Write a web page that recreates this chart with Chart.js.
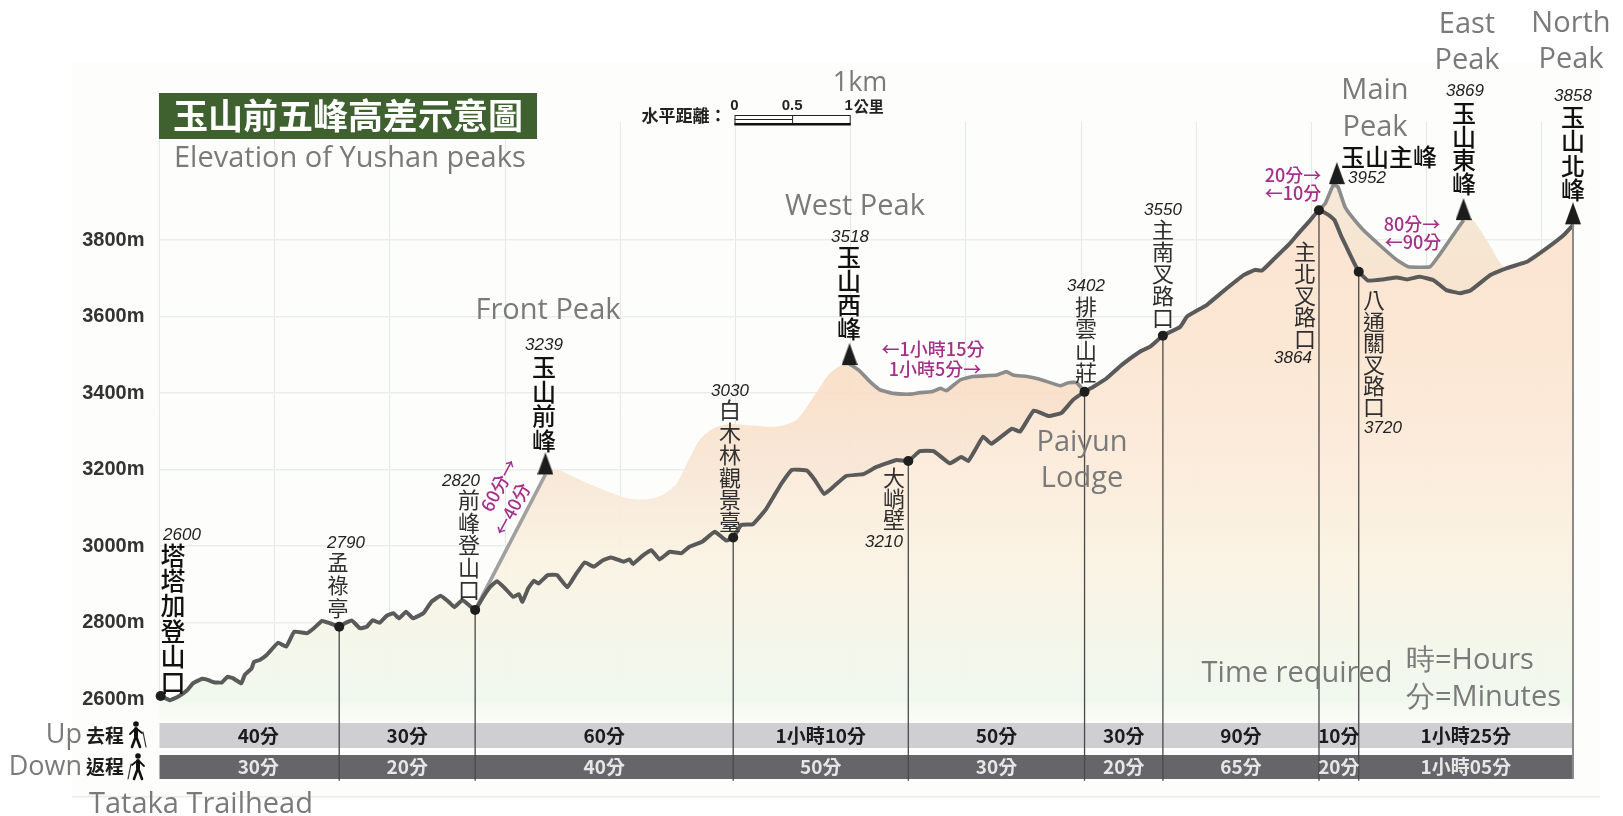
<!DOCTYPE html>
<html><head><meta charset="utf-8">
<style>html,body{margin:0;padding:0;background:#fff}canvas{display:block}</style>
<script src="https://cdn.jsdelivr.net/npm/chart.js@4"></script>
</head><body><canvas id="c" width="1623" height="816"></canvas>
<script>
// ---- data: distance (km) and elevation (m) ----
const yTicksM=[2600,2800,3000,3200,3400,3600,3800];
const xGridKm=[0,1,2,3,4,5,6,7,8,9,10,11,12];
const mainKm=[0.01,0.09,0.16,0.24,0.29,0.37,0.42,0.47,0.54,0.59,0.64,0.71,0.74,0.80,0.82,0.87,0.93,1.03,1.10,1.17,1.28,1.34,1.41,1.48,1.56,1.61,1.67,1.74,1.80,1.85,1.91,1.97,2.03,2.08,2.14,2.20,2.29,2.36,2.44,2.51,2.56,2.63,2.74,2.81,2.87,2.93,3.00,3.07,3.12,3.15,3.20,3.25,3.29,3.37,3.45,3.54,3.61,3.69,3.77,3.85,3.92,4.03,4.08,4.11,4.20,4.27,4.34,4.43,4.53,4.60,4.71,4.82,4.92,4.98,5.05,5.15,5.26,5.33,5.40,5.49,5.62,5.69,5.77,5.85,5.96,6.11,6.22,6.40,6.50,6.60,6.72,6.86,6.96,7.02,7.08,7.15,7.22,7.40,7.47,7.59,7.72,7.83,7.93,8.03,8.11,8.22,8.35,8.51,8.60,8.71,8.86,8.92,9.09,9.23,9.41,9.51,9.57,9.68,9.80,9.90,9.99,10.065,10.15,10.20,10.26,10.33,10.41,10.49,10.62,10.74,10.83,10.94,11.06,11.17,11.29,11.38,11.55,11.69,11.87,12.04,12.19,12.27];
const mainM=[2608,2597,2606,2623,2641,2653,2650,2644,2643,2658,2654,2641,2663,2680,2697,2702,2715,2747,2737,2776,2772,2785,2804,2798,2789,2798,2805,2785,2789,2806,2799,2817,2824,2811,2828,2811,2824,2854,2870,2854,2840,2859,2833,2867,2893,2908,2889,2867,2874,2854,2889,2909,2902,2924,2924,2892,2924,2957,2946,2963,2970,2959,2965,2953,2976,2989,2965,2985,2981,2998,3011,3037,3014,3022,3055,3057,3094,3129,3164,3199,3197,3172,3136,3155,3183,3188,3206,3225,3222,3248,3248,3216,3233,3222,3251,3286,3267,3307,3299,3354,3340,3348,3382,3403,3417,3438,3473,3508,3521,3550,3573,3600,3630,3665,3708,3722,3720,3752,3787,3822,3852,3878,3865,3852,3809,3765,3717,3694,3697,3702,3697,3704,3695,3669,3661,3668,3708,3726,3743,3778,3813,3839];
const frontKm=[2.74,3.35];
const frontM=[2833,3187];
const westKm=[5.99,6.07,6.17,6.25,6.37,6.52,6.60,6.70,6.78,6.83,6.95,7.06,7.27,7.35,7.41,7.53,7.64,7.82,7.89,7.96,8.03];
const westM=[3476,3460,3429,3409,3399,3397,3401,3403,3412,3406,3434,3443,3447,3456,3447,3443,3436,3419,3427,3427,3403];
const summitKm=[10.065,10.12,10.19,10.23,10.29,10.35,10.45,10.59,10.74,10.84,11.03,11.12,11.20,11.32];
const summitM=[3878,3896,3944,3939,3887,3861,3826,3787,3748,3730,3730,3765,3800,3852];
const frontMoundKm=[3.46,3.62,3.85,4.06,4.23,4.37,4.49,4.58,4.69,4.81,4.95,5.15,5.36,5.53,5.68,5.82,5.94];
const frontMoundM=[3199,3177,3147,3125,3122,3134,3164,3217,3278,3308,3319,3315,3312,3330,3391,3452,3476];
const eastMoundKm=[11.40,11.52,11.68];
const eastMoundM=[3852,3800,3728];
const waypointKm=[0.01,1.56,2.74,4.98,6.50,8.03,8.71,10.065,10.41];
const waypointM=[2608,2789,2833,3022,3222,3403,3550,3878,3717];
const peakKm=[3.35,5.99,10.22,11.32,12.27];
const peakM=[3187,3473,3946,3852,3841];
const dropFloorM=2386;
const bandEdgesKm=[0,1.56,2.74,4.98,6.50,8.03,8.71,10.065,10.41,12.27];
const upTimes=['40分','30分','60分','1小時10分','50分','30分','90分','10分','1小時25分'];
const downTimes=['30分','20分','40分','50分','30分','20分','65分','20分','1小時05分'];

const CJK='"Noto Sans CJK TC"', EN='"Open Sans"';
const zip=(a,b)=>a.map((x,i)=>({x,y:b[i]}));
const envelope=[
 ...zip(mainKm,mainM).filter(p=>p.x<=2.74),
 ...zip(frontKm,frontM).slice(1),
 ...zip(frontMoundKm,frontMoundM),
 ...zip(westKm,westM),
 ...zip(mainKm,mainM).filter(p=>p.x>8.03&&p.x<=10.065),
 ...zip(summitKm,summitM).slice(1),
 ...zip(eastMoundKm,eastMoundM),
 ...zip(mainKm,mainM).filter(p=>p.x>11.69)
];
const drops=[];
waypointKm.slice(1).forEach((k,i)=>{drops.push({x:k,y:waypointM[i+1]},{x:k,y:dropFloorM},{x:k,y:null});});

function grad(ctx,stops){
  const c=ctx.chart,a=c.chartArea; if(!a) return 'transparent';
  const g=c.ctx.createLinearGradient(0,0,0,699);
  stops.forEach(s=>g.addColorStop(s[0]/699,s[1]));
  return g;
}
function triangleSprite(){
  const w=16,h=22,cv=document.createElement('canvas');cv.width=w;cv.height=h*2;
  const g=cv.getContext('2d');g.fillStyle='#1c1c1c';g.beginPath();g.moveTo(w/2,0);g.lineTo(w,h);g.lineTo(0,h);g.closePath();g.fill();
  return cv;
}
function hiker(g,x,y,flip){
  g.save();g.translate(x,y);if(flip)g.scale(-1,1);g.strokeStyle='#111';g.fillStyle='#111';g.lineCap='round';
  g.beginPath();g.arc(-1,-11,2.8,0,7);g.fill();
  g.lineWidth=4;g.beginPath();g.moveTo(-1,-6);g.lineTo(-1,1);g.stroke();
  g.lineWidth=2.6;g.beginPath();g.moveTo(-1,1);g.lineTo(-5,12);g.moveTo(-1,1);g.lineTo(3,12);g.stroke();
  g.lineWidth=1.8;g.beginPath();g.moveTo(-2,-6);g.lineTo(-7,-1);g.moveTo(0,-6);g.lineTo(5,-2);g.stroke();
  g.lineWidth=1.2;g.strokeStyle='#333';g.beginPath();g.moveTo(6,-3);g.lineTo(9,12);g.stroke();
  g.restore();
}
const GRAY='#7a7a7a',INK='#2f2f2f',BLACK='#111',MAG='#a5308a';
const plugin={
 id:'art',
 beforeDraw(c){const g=c.ctx;g.save();g.fillStyle='#fff';g.fillRect(0,0,1623,816);g.fillStyle='#fdfdfb';g.fillRect(72,62,1528,735);
  g.fillStyle='#ececec';g.fillRect(72,796,1528,1.5);g.restore();},
 beforeDatasetsDraw(c){
  const g=c.ctx,x=c.scales.x;const L=x.getPixelForValue(0),R=x.getPixelForValue(12.27);
  g.save();
  const lg=g.createLinearGradient(0,699,0,722);lg.addColorStop(0,'#f0f8ee');lg.addColorStop(1,'#fbfcf7');
  g.fillStyle=lg;g.fillRect(L,699,R-L,23);
  g.fillStyle='#cfcfd2';g.fillRect(L,723,R-L,25);
  g.fillStyle='#66666a';g.fillRect(L,755,R-L,24);
  g.restore();
 },
 afterDatasetsDraw(c){
  const g=c.ctx,sx=c.scales.x;
  g.save();g.textBaseline='middle';
  const T=(s,x,y,f,col,al)=>{g.font=f;g.fillStyle=col;g.textAlign=al||'center';g.fillText(s,x,y);};
  const TE=(s,x,y,f,col,al)=>T(s,x,y+4,f,col,al);
  const V=(s,x,y0,step,f,col)=>{g.font=f;g.fillStyle=col;g.textAlign='center';[...s].forEach((ch,i)=>g.fillText(ch,x,y0+i*step));};
  // band labels
  upTimes.forEach((s,i)=>{let a=sx.getPixelForValue(bandEdgesKm[i]),b=sx.getPixelForValue(bandEdgesKm[i+1]);if(i==0)a+=18;
    T(s,(a+b)/2,736,'600 19px '+CJK,'#1c1c1c');T(downTimes[i],(a+b)/2,767,'600 19px '+CJK,'#e6e6e6');});
  // title
  g.fillStyle='#3f6130';g.fillRect(159,93,378,46);
  T('玉山前五峰高差示意圖',348,116,'700 35px '+CJK,'#fff');
  TE('Elevation of Yushan peaks',174,155,'500 29px '+EN,GRAY,'left');
  // scale bar (1 km on the x scale)
  const s0=sx.getPixelForValue(5)-1,s1=sx.getPixelForValue(6)-1,sm=(s0+s1)/2;
  g.strokeStyle='#222';g.lineWidth=1;g.fillStyle='#fff';g.fillRect(s0,115,s1-s0,9);g.strokeRect(s0+.5,115.5,s1-s0,9);
  g.beginPath();g.moveTo(s0,119.5);g.lineTo(sm,119.5);g.moveTo(sm+.5,115);g.lineTo(sm+.5,124);g.stroke();
  g.fillStyle='#111';g.fillRect(s0,123,s1-s0+1,2.5);
  T('水平距離：',684,116,'700 17px '+CJK,'#222');
  T('0',s0,106,'700 15px "Liberation Sans"','#222');T('0.5',sm,106,'700 15px "Liberation Sans"','#222');
  T('1',s1-1,106,'700 15px "Liberation Sans"','#222');T('公里',s1+19,106,'700 15px '+CJK,'#222');
  TE('1km',860,79,'500 27px '+EN,GRAY);
  // side labels
  T('Up',82,735,'400 27px '+EN,GRAY,'right');T('Down',82,767,'400 27px '+EN,GRAY,'right');
  T('去程',105,736,'700 19px '+CJK,'#1c1c1c');T('返程',105,767,'700 19px '+CJK,'#1c1c1c');
  hiker(g,137,735,false);hiker(g,137,767,true);
  TE('Tataka Trailhead',89,801,'500 29px '+EN,GRAY,'left');
  // English peak labels
  const E='500 29px '+EN;
  TE('Front Peak',548,307,E,GRAY);TE('West Peak',855,203,E,GRAY);
  TE('Main',1375,87,E,GRAY);TE('Peak',1375,124,E,GRAY);
  TE('East',1467,21,E,GRAY);TE('Peak',1467,57,E,GRAY);
  TE('North',1571,20,E,GRAY);TE('Peak',1571,56,E,GRAY);
  TE('Paiyun',1082,439,E,GRAY);TE('Lodge',1082,475,E,GRAY);
  TE('Time required',1297,670,E,GRAY);
  TE('時=Hours',1406,657,E,GRAY,'left');
  TE('分=Minutes',1406,694,E,GRAY,'left');
  // Chinese place names
  const PK='500 24px '+CJK,WP='400 22px '+CJK;
  V('塔塔加登山口',173,555,25.4,'500 25px '+CJK,BLACK);
  V('孟祿亭',338,562,23,'400 21px '+CJK,INK);
  V('前峰登山口',469,500,22.5,WP,INK);
  V('玉山前峰',544,367,24.5,PK,BLACK);
  V('白木林觀景臺',730,410,22.4,WP,INK);
  V('玉山西峰',849,257,24,PK,BLACK);
  V('大峭壁',894,478,21,WP,INK);
  V('排雲山莊',1086,307,22,WP,INK);
  V('主南叉路口',1163,230,22,WP,INK);
  V('主北叉路口',1305,252,21.7,WP,INK);
  V('八通關叉路口',1374,300,21.4,WP,INK);
  V('玉山東峰',1464,113,23.6,PK,BLACK);
  V('玉山北峰',1573,117,24.3,PK,BLACK);
  T('玉山主峰',1389,157,PK,BLACK);
  // elevation notes
  const N='italic 17px "Liberation Sans"';
  [['2600',182,535],['2790',346,543],['2820',461,481],['3239',544,345],['3030',730,391],['3518',850,237],['3210',884,542],['3402',1086,286],['3550',1163,210],['3864',1293,358],['3720',1383,428],['3952',1367,178],['3869',1465,91],['3858',1573,96]].forEach(a=>T(a[0],a[1],a[2],N,'#222'));
  // walking times
  const M='500 18px '+CJK;
  T('←1小時15分',933,349,M,MAG);T('1小時5分→',935,369,M,MAG);
  T('20分→',1293,175,M,MAG);T('←10分',1293,193,M,MAG);
  T('80分→',1412,224,M,MAG);T('←90分',1413,242,M,MAG);
  [['60分→',499,485],['←40分',512,509]].forEach(a=>{g.save();g.translate(a[1],a[2]);g.rotate(-62*Math.PI/180);T(a[0],0,0,M,MAG);g.restore();});
  g.restore();
 }
};
new Chart(document.getElementById('c'),{
 type:'line',
 plugins:[plugin],
 data:{datasets:[
  {label:'peaks',data:zip(peakKm,peakM),showLine:false,pointStyle:triangleSprite(),pointRadius:11,order:0,clip:false},
  {label:'waypoints',data:zip(waypointKm,waypointM),showLine:false,pointStyle:'circle',pointRadius:5,pointBackgroundColor:'#1e1e1e',pointBorderWidth:0,order:1,clip:false},
  {label:'north drop',data:[{x:12.27,y:3841},{x:12.27,y:dropFloorM+5}],borderColor:'#8a8a8a',borderWidth:2,pointRadius:0,order:1.2,clip:false},
  {label:'drops',data:drops,borderColor:'#4a4a4a',borderWidth:1.3,pointRadius:0,order:1.5,clip:false},
  {label:'main',data:zip(mainKm,mainM),borderColor:'#5a5a5a',borderWidth:4,pointRadius:0,tension:.1,borderJoinStyle:'round',order:2,clip:false},
  {label:'front branch',data:zip(frontKm,frontM),borderColor:'#a0a0a0',borderWidth:3.6,pointRadius:0,order:3,clip:false},
  {label:'west branch',data:zip(westKm,westM),borderColor:'#8c8c8c',borderWidth:3.6,pointRadius:0,tension:.15,order:3,clip:false},
  {label:'summit branch',data:zip(summitKm,summitM),borderColor:'#8c8c8c',borderWidth:3.6,pointRadius:0,tension:.1,order:3,clip:false},
  {label:'under main',data:zip(mainKm,mainM),borderWidth:0,pointRadius:0,tension:.1,fill:'start',order:5,
   backgroundColor:ctx=>grad(ctx,[[200,'rgba(252,228,208,.85)'],[350,'rgba(252,232,214,.85)'],[480,'rgba(252,238,222,.8)'],[560,'rgba(250,243,228,.6)'],[699,'rgba(240,248,238,.5)']])},
  {label:'envelope',data:envelope,borderWidth:0,pointRadius:0,tension:.25,fill:'start',order:6,
   backgroundColor:ctx=>grad(ctx,[[200,'rgba(244,230,210,.92)'],[380,'rgba(249,222,198,.92)'],[480,'rgba(248,231,214,.92)'],[560,'rgba(250,243,226,.92)'],[620,'rgba(246,246,232,.92)'],[699,'rgba(240,248,238,.92)']])}
 ]},
 options:{
  responsive:false,animation:false,
  layout:{padding:{left:0,right:50,top:122,bottom:117}},
  plugins:{legend:{display:false},tooltip:{enabled:false}},
  scales:{
   x:{type:'linear',min:0,max:12.27,
      afterBuildTicks(s){s.ticks=xGridKm.map(v=>({value:v}));},
      afterFit(s){s.height=0;},
      ticks:{display:false},border:{display:false},
      grid:{color:'#deece6',lineWidth:1,drawTicks:false}},
   y:{type:'linear',min:2600,max:4108.5,
      afterBuildTicks(s){s.ticks=yTicksM.map(v=>({value:v}));},
      afterFit(s){s.width=159.5;},
      border:{display:false},
      grid:{color:'#e9efe8',lineWidth:1.5,drawTicks:false},
      ticks:{padding:15,color:'#333',font:{family:'"Liberation Sans"',size:20,weight:'bold'},callback:v=>v+'m'}}
  }
 }
});
</script></body></html>
